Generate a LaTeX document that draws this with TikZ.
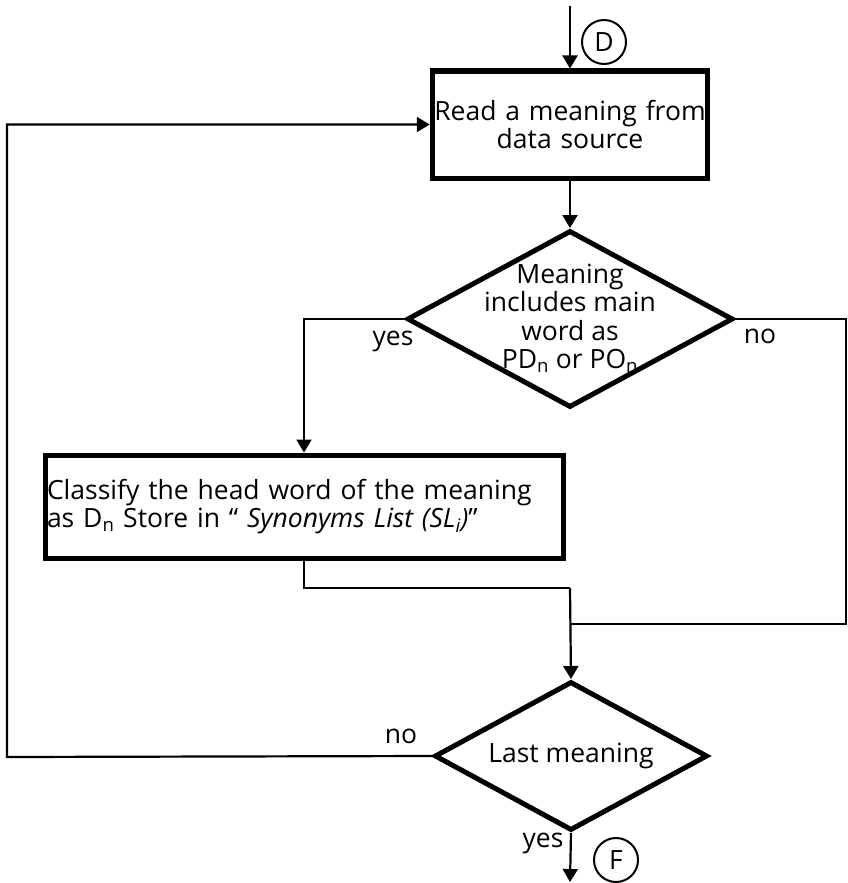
\documentclass[tikz,border=0pt]{standalone}
\usepackage{fontspec}
\setmainfont{Open Sans}
\usetikzlibrary{arrows.meta,shapes.geometric}
\begin{document}
\begin{tikzpicture}[x=1pt,y=-1pt,
  conn/.style={line width=2.2pt},
  arr/.style={conn,-{Triangle[length=13pt,width=15pt]}},
  procbox/.style={draw,rectangle,line width=5pt,inner xsep=0pt,inner ysep=0pt,font=\fontsize{26.5}{26}\selectfont},
  decision/.style={draw,diamond,line width=5pt,inner sep=0pt},
  txt/.style={font=\fontsize{26.5}{28.5}\selectfont,inner sep=0pt},
  conncircle/.style={draw,circle,line width=2pt,minimum size=44pt,inner sep=0pt,font=\fontsize{26.5}{28}\selectfont}]
\useasboundingbox (0,0) rectangle (847,883);
% process boxes
\node[procbox,minimum width=275.5pt,minimum height=107pt,text width=275.5pt,align=center] (read) at (570,124.5) {Read a meaning from\\data source};
\node[procbox,minimum width=518pt,minimum height=103pt,inner xsep=2pt,text width=514pt,align=left,font=\fontsize{26.5}{28.5}\selectfont] (cls) at (304,506.5) {Classify the head word of the meaning\\as D\textsubscript{n} Store in “ \textit{Synonyms List (SL\textsubscript{i})}”};
% decisions
\node[decision,minimum width=326pt,minimum height=177pt] (d1) at (570,319) {};
\node[txt,align=center] (d1t) at (570,318) {Meaning\\includes main\\word as\\PD\textsubscript{n} or PO\textsubscript{n}};
\node[decision,minimum width=273pt,minimum height=149pt] (d2) at (571,756) {};
\node[txt] (d2t) at (571,756) {Last meaning};
% connectors
\node[conncircle] (D) at (604,42) {D};
\node[conncircle] (F) at (616,860) {F};
\coordinate (start) at (570,6);
\coordinate (end) at (570,882);
\coordinate (lp) at (7,757);
\coordinate (rt) at (846,319);
\coordinate (rb) at (846,624);
\coordinate (j1) at (570,588);
\coordinate (j2) at (570,624);
\draw[arr] (start) -- (read.north);
\draw[arr] (read.south) -- (d1.north);
\draw[arr] (d1.west) -| (cls.north);
\draw[conn] (d1.east) -- (rt) -- (rb) -- (j2);
\draw[conn] (cls.south) |- (j1);
\draw[arr] (j1) -- (d2.north);
\draw[arr] (d2.west) -- (lp) |- (read.west);
\draw[arr] (d2.south) -- (end);
% labels
\node[txt,anchor=base] (yes1) at (393,345) {yes};
\node[txt,anchor=base] (no1) at (760,343) {no};
\node[txt,anchor=base] (no2) at (401,743) {no};
\node[txt,anchor=base] (yes2) at (543,847) {yes};
\end{tikzpicture}
\end{document}
